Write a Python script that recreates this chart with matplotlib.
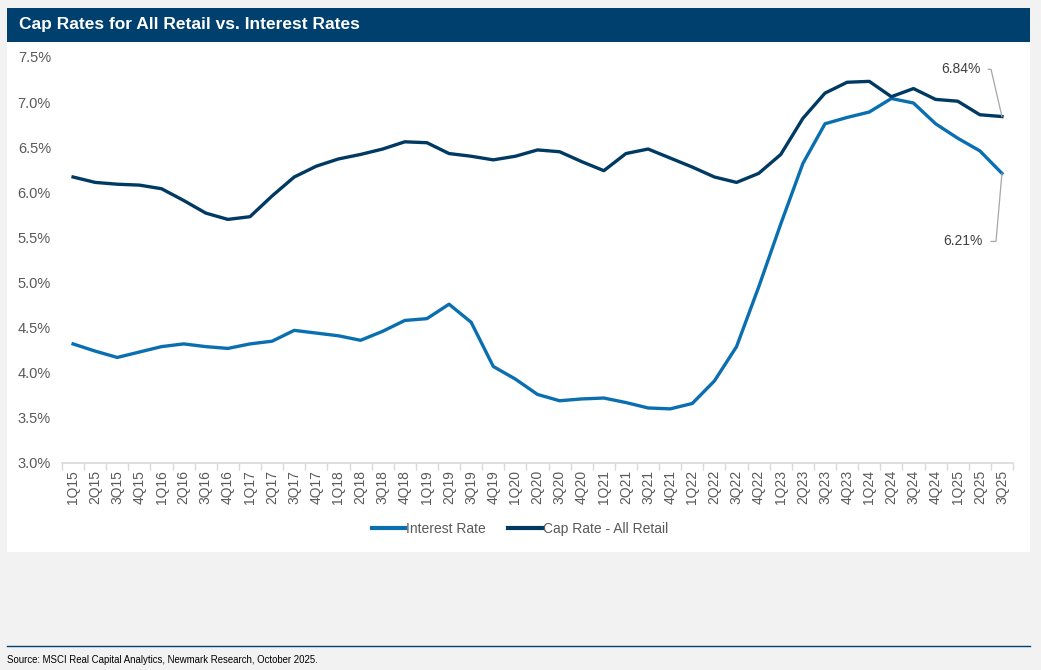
import matplotlib
matplotlib.use("Agg")
import matplotlib.pyplot as plt
from matplotlib.patches import Rectangle
from matplotlib.lines import Line2D
from matplotlib.ticker import FuncFormatter, FixedLocator

plt.rcParams['font.family'] = ['Liberation Sans', 'DejaVu Sans']

quarters = ["1Q15", "2Q15", "3Q15", "4Q15", "1Q16", "2Q16", "3Q16", "4Q16",
            "1Q17", "2Q17", "3Q17", "4Q17", "1Q18", "2Q18", "3Q18", "4Q18",
            "1Q19", "2Q19", "3Q19", "4Q19", "1Q20", "2Q20", "3Q20", "4Q20",
            "1Q21", "2Q21", "3Q21", "4Q21", "1Q22", "2Q22", "3Q22", "4Q22",
            "1Q23", "2Q23", "3Q23", "4Q23", "1Q24", "2Q24", "3Q24", "4Q24",
            "1Q25", "2Q25", "3Q25"]

interest_rate = [4.32, 4.24, 4.17, 4.23, 4.29, 4.32, 4.29, 4.27,
                 4.32, 4.35, 4.47, 4.44, 4.41, 4.36, 4.46, 4.58,
                 4.60, 4.76, 4.56, 4.07, 3.93, 3.76, 3.69, 3.71,
                 3.72, 3.67, 3.61, 3.60, 3.66, 3.91, 4.29, 4.95,
                 5.65, 6.32, 6.76, 6.83, 6.89, 7.04, 6.99, 6.76,
                 6.60, 6.46, 6.21]

cap_rate = [6.17, 6.11, 6.09, 6.08, 6.04, 5.91, 5.77, 5.70,
            5.73, 5.96, 6.17, 6.29, 6.37, 6.42, 6.48, 6.56,
            6.55, 6.43, 6.40, 6.36, 6.40, 6.47, 6.45, 6.34,
            6.24, 6.43, 6.48, 6.38, 6.28, 6.17, 6.11, 6.21,
            6.42, 6.82, 7.10, 7.22, 7.23, 7.06, 7.15, 7.03,
            7.01, 6.86, 6.84]

y_ticks = [3.0, 3.5, 4.0, 4.5, 5.0, 5.5, 6.0, 6.5, 7.0, 7.5]

LIGHT = "#0a6fb0"
DARK = "#003a63"
NAVY = "#00406e"
GREY_TXT = "#595959"

W, H = 1041, 670
fig = plt.figure(figsize=(W / 100, H / 100), dpi=100)
fig.patch.set_facecolor("#f2f2f2")

# white panel
fig.patches.append(Rectangle((7 / W, 1 - 552 / H), (1030 - 7) / W, (552 - 42) / H,
                             transform=fig.transFigure, facecolor="white",
                             edgecolor="none", zorder=-5))
# title bar
fig.patches.append(Rectangle((7 / W, 1 - 42 / H), (1030 - 7) / W, (42 - 8) / H,
                             transform=fig.transFigure, facecolor=NAVY,
                             edgecolor="none", zorder=-5))
fig.text(19 / W, 1 - 25 / H, "Cap Rates for All Retail vs. Interest Rates",
         color="white", fontsize=12.5, fontweight="bold", va="center", ha="left")

# footer line and source
fig.lines.append(Line2D([7 / W, 1030 / W], [1 - 646 / H, 1 - 646 / H],
                        transform=fig.transFigure, color=NAVY, lw=1.0))
fig.text(7 / W, 1 - 660 / H,
         "Source: MSCI Real Capital Analytics, Newmark Research, October 2025.",
         color="#000000", fontsize=6.9, va="center", ha="left")

ax = fig.add_axes([62 / W, 1 - 463 / H, (1013 - 62) / W, (463 - 57) / H])
ax.set_facecolor("none")
ax.set_zorder(2)
x = list(range(len(quarters)))
l1, = ax.plot(x, interest_rate, color=LIGHT, lw=2.4, solid_joinstyle="round",
              label="Interest Rate", zorder=3)
l2, = ax.plot(x, cap_rate, color=DARK, lw=2.4, solid_joinstyle="round",
              label="Cap Rate - All Retail", zorder=3)

ax.set_xlim(-0.5, len(quarters) - 0.5)
ax.set_ylim(3.0, 7.5)
ax.set_yticks(y_ticks)
ax.yaxis.set_major_formatter(FuncFormatter(lambda v, p: f"{v:.1f}%"))
ax.tick_params(axis="y", length=0, labelsize=10.5, labelcolor=GREY_TXT, pad=8)

ax.set_xticks(x)
ax.set_xticklabels(quarters, rotation=90)
ax.tick_params(axis="x", which="major", length=0, labelsize=10,
               labelcolor=GREY_TXT, pad=5)
ax.xaxis.set_minor_locator(FixedLocator([i - 0.5 for i in range(len(quarters) + 1)]))
ax.tick_params(axis="x", which="minor", length=5, color="#d9d9d9", width=1)

for s in ["top", "right", "left"]:
    ax.spines[s].set_visible(False)
ax.spines["bottom"].set_color("#d9d9d9")
ax.spines["bottom"].set_linewidth(1.2)

# data labels for last points
last = len(quarters) - 1
ax.annotate(f"{cap_rate[last]:.2f}%", xy=(last, cap_rate[last]),
            xytext=(-15, 34), textcoords="offset points",
            ha="right", va="center", fontsize=10, color="#404040",
            arrowprops=dict(arrowstyle="-", color="#a6a6a6", lw=0.9,
                            relpos=(1, 0.5), shrinkA=3, shrinkB=0,
                            connectionstyle="angle,angleA=0,angleB=103,rad=0"))
ax.annotate(f"{interest_rate[last]:.2f}%", xy=(last, interest_rate[last]),
            xytext=(-14, -49), textcoords="offset points",
            ha="right", va="center", fontsize=10, color="#404040",
            arrowprops=dict(arrowstyle="-", color="#a6a6a6", lw=0.9,
                            relpos=(1, 0.5), shrinkA=4, shrinkB=0,
                            connectionstyle="angle,angleA=0,angleB=-95,rad=0"))

leg = fig.legend(handles=[l1, l2], loc="center", bbox_to_anchor=(520 / W, 1 - 529 / H),
                 ncol=2, frameon=False, fontsize=10, handlelength=2.4,
                 handletextpad=0.1, columnspacing=1.6)
for t in leg.get_texts():
    t.set_color(GREY_TXT)
for h in leg.legend_handles:
    h.set_linewidth(3)

fig.savefig("out.png", dpi=100, facecolor=fig.get_facecolor())
